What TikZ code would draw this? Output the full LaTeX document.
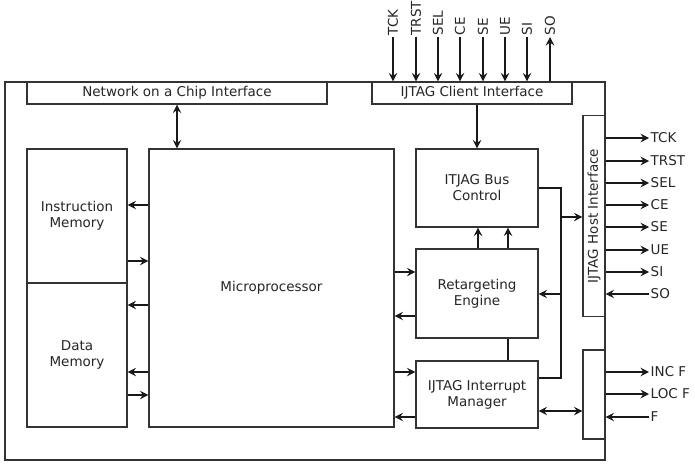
\documentclass[tikz,border=0pt]{standalone}
\usepackage{fontspec}
\setmainfont{DejaVu Sans}
\usetikzlibrary{arrows.meta}
\begin{document}
\begin{tikzpicture}[x=1pt,y=-1pt,
  box/.style={draw=black!80,line width=1.1pt,fill=white,inner sep=0pt,align=center,text=black!85,font=\fontsize{13.5}{16}\selectfont},
  lbl/.style={inner sep=1.5pt,text=black!85,font=\fontsize{13.5}{16}\selectfont},
  conn/.style={line width=1.1pt,draw=black!90},
  arr/.style={conn,-{Stealth[length=8.5pt,width=8.5pt,inset=3pt]}},
  arrb/.style={conn,{Stealth[length=8.5pt,width=8.5pt,inset=3pt]}-{Stealth[length=8.5pt,width=8.5pt,inset=3pt]}}]
\useasboundingbox (0,0) rectangle (695,466);
% outer frame
\node[box,minimum width=600,minimum height=378] (outer) at (305,271) {};
% interface bars
\node[box,minimum width=300,minimum height=22] (noc) at (177,93) {Network on a Chip Interface};
\node[box,minimum width=200,minimum height=22] (client) at (472,93) {IJTAG Client Interface};
\node[box,minimum width=22,minimum height=201] (host) at (594,216) {};
\node[lbl,rotate=90] (hostt) at (host.center) {IJTAG Host Interface};
\node[box,minimum width=22,minimum height=89] (pins) at (594,394.5) {};
% blocks
\node[box,minimum width=100,minimum height=134] (imem) at (77,216) {Instruction\\Memory};
\node[box,minimum width=100,minimum height=144] (dmem) at (77,355) {Data\\Memory};
\node[box,minimum width=245,minimum height=278] (micro) at (271.5,288) {Microprocessor};
\node[box,minimum width=122,minimum height=78] (bus) at (477,188) {ITJAG Bus\\Control};
\node[box,minimum width=122,minimum height=89] (retarg) at (477,293.5) {Retargeting\\Engine};
\node[box,minimum width=122,minimum height=67] (intr) at (477,394.5) {IJTAG Interrupt\\Manager};
% top signals
\foreach \n/\t/\xx in {tck/TCK/393,trst/TRST/416,sel/SEL/438,ce/CE/460,se/SE/483,ue/UE/505,si/SI/527}{
  \node[lbl,rotate=90,anchor=west] (\n) at (\xx,37) {\t};
  \draw[arr] (\n.west) -- (\n.west |- client.north);
}
\node[lbl,rotate=90,anchor=west] (so) at (550,37) {SO};
\draw[arr] (so.west |- client.north) -- (so.west);
% NoC <-> micro, client -> bus
\draw[arrb] (noc.south) -- (noc.south |- micro.north);
\draw[arr] (client.south -| bus.north) -- (bus.north);
% memories <-> micro
\draw[arr] (micro.west |- 0,205) -- (imem.east |- 0,205);
\draw[arr] (imem.east |- 0,261) -- (micro.west |- 0,261);
\draw[arr] (micro.west |- 0,305) -- (dmem.east |- 0,305);
\draw[arr] (micro.west |- 0,372) -- (dmem.east |- 0,372);
\draw[arr] (dmem.east |- 0,395) -- (micro.west |- 0,395);
% micro <-> retargeting / interrupt
\draw[arr] (micro.east |- 0,272) -- (retarg.west |- 0,272);
\draw[arr] (retarg.west |- 0,316) -- (micro.east |- 0,316);
\draw[arr] (micro.east |- 0,372) -- (intr.west |- 0,372);
\draw[arr] (intr.west |- 0,417) -- (micro.east |- 0,417);
% retargeting -> bus, retargeting -- interrupt
\draw[arr] (retarg.north -| 478,0) -- (bus.south -| 478,0);
\draw[arr] (retarg.north -| 508,0) -- (bus.south -| 508,0);
\draw[conn] (retarg.south -| 508,0) -- (intr.north -| 508,0);
% right-hand bus
\coordinate (jtop) at (561,188);
\coordinate (jbot) at (561,378);
\coordinate (jh) at (561,217);
\coordinate (jr) at (561,294);
\draw[conn] (bus.east) -- (jtop) -- (jbot) -- (intr.east |- jbot);
\draw[arr] (jh) -- (host.west |- jh);
\draw[arr] (jr) -- (retarg.east |- jr);
\draw[arrb] (intr.east |- 0,411) -- (pins.west |- 0,411);
% host outputs
\foreach \n/\t/\yy in {otck/TCK/138,otrst/TRST/161,osel/SEL/183,oce/CE/205,ose/SE/227,oue/UE/250,osi/SI/272}{
  \node[lbl,anchor=west] (\n) at (649,\yy) {\t};
  \draw[arr] (host.east |- \n.west) -- (\n.west);
}
\node[lbl,anchor=west] (oso) at (649,294) {SO};
\draw[arr] (oso.west) -- (host.east |- oso.west);
% interrupt pins
\node[lbl,anchor=west] (inc) at (649,372) {INC F};
\draw[arr] (pins.east |- inc.west) -- (inc.west);
\node[lbl,anchor=west] (loc) at (649,394) {LOC F};
\draw[arr] (pins.east |- loc.west) -- (loc.west);
\node[lbl,anchor=west] (f) at (649,417) {F};
\draw[arr] (f.west) -- (pins.east |- f.west);
\end{tikzpicture}
\end{document}
